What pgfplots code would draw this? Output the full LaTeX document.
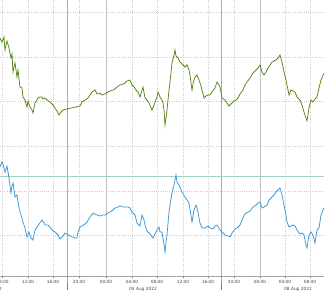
\documentclass[border=0pt]{standalone}
\usepackage{fontspec}
\setmainfont{DejaVu Sans}
\usepackage{pgfplots}
\pgfplotsset{compat=1.18}
\definecolor{grn}{RGB}{88,134,24}
\definecolor{blu}{RGB}{58,152,214}
\definecolor{tealline}{RGB}{160,212,200}
\definecolor{gridc}{RGB}{205,205,205}
\definecolor{txt}{RGB}{70,70,70}
\begin{document}
\begin{tikzpicture}
\useasboundingbox (0,-14pt) rectangle (324pt,276pt);
\begin{axis}[
  scale only axis, width=324pt, height=276pt,
  xmin=0, xmax=324, ymin=0, ymax=276,
  clip=false,
  axis line style={draw=none},
  ytick={41,85,130,175,219,264}, yticklabels={},
  ytick style={draw=none},
  xtick={2.5,28,53,79,132,157,183,208,234,285,310},
  xticklabels={08:00,12:00,16:00,20:00,04:00,08:00,12:00,16:00,20:00,04:00,08:00},
  extra x ticks={106,260},
  extra x tick labels={00:00,00:00},
  extra x tick style={grid=major, major grid style={gray!50, solid, line width=0.7pt}},
  xtick pos=bottom, tick align=outside, major tick length=1.5pt,
  xtick style={black!60, line width=0.4pt},
  xticklabel style={font=\fontsize{4.3}{5}\selectfont, text=txt, yshift=1.2pt},
  grid=major,
  major grid style={gridc, dash pattern=on 0.8pt off 1.4pt, line width=0.4pt},
]
% bottom axis line
\draw[gray!70, line width=0.5pt] (axis cs:0,0) -- (axis cs:324,0);
% session separators
\draw[black!50, line width=0.45pt] (axis cs:67,276) -- (axis cs:67,0) -- ++(0,-14pt);
\draw[black!50, line width=0.45pt] (axis cs:221,276) -- (axis cs:221,0) -- ++(0,-14pt);
% reference line
\addplot[tealline, line width=0.7pt] coordinates {(0,100) (324,100)};
% green series (values as pixel rows from top)
\addplot[grn, line width=0.75pt] table[x=x, y expr=276-\thisrow{y}] {
x y
0 38
2 42
4 37
5 50
7 41
9 48
11 58
12 54
13 72
15 63
17 77
18 70
20 87
22 88
23 97
25 100
26 104
27 107
28 101
30 107
32 110
33 113
35 103
37 100
38 98
40 97
42 97
43 99
45 98
47 100
50 102
53 105
55 108
57 111
59 115
61 112
63 110
80 106
82 102
85 100
88 98
90 95
92 92
95 90
97 94
100 93
102 95
105 94
108 92
110 91
113 90
115 89
117 87
120 85
123 84
125 83
127 81
130 80
132 85
134 87
136 90
138 92
140 97
143 87
145 98
147 100
149 103
152 110
154 105
157 97
158 92
160 97
162 100
163 103
164 110
165 125
166 118
167 110
169 90
170 82
172 63
174 55
175 50
176 56
178 58
180 62
182 64
185 67
187 65
189 70
190 75
192 90
193 84
195 77
197 75
199 80
201 86
204 98
206 96
208 95
210 95
212 92
215 88
217 82
219 85
220 87
222 98
225 100
227 103
229 106
231 104
233 102
236 100
238 98
240 94
243 90
245 85
247 82
250 78
253 73
256 70
258 68
260 65
262 72
264 75
266 72
268 68
270 65
272 62
274 61
276 60
278 58
280 55
282 62
284 72
286 80
288 90
289 95
291 90
293 91
295 92
297 97
300 100
302 105
304 112
306 118
307 121
309 108
311 100
313 102
315 99
317 97
319 88
321 80
324 73
};
% blue series
\addplot[blu, line width=0.75pt] table[x=x, y expr=276-\thisrow{y}] {
x y
0 167
2 162
3 164
5 172
7 166
9 178
11 193
12 186
13 183
15 197
17 195
19 208
21 215
23 222
25 228
27 237
29 232
31 238
33 240
35 230
37 227
39 224
42 220
45 225
48 225
50 227
52 230
55 232
58 235
60 239
63 236
65 233
67 234
70 236
73 237
75 238
77 238
78 232
80 227
82 226
85 224
87 222
90 217
93 213
95 214
97 215
100 216
103 215
105 215
108 213
110 212
113 210
115 208
118 207
120 206
123 207
125 207
128 207
130 208
132 212
135 215
137 223
140 226
142 215
144 220
145 225
147 231
150 234
153 238
155 234
157 230
159 227
160 232
162 232
163 238
165 252
166 242
167 235
169 212
170 205
172 193
174 185
176 175
177 182
179 185
182 192
185 197
187 200
189 203
192 222
194 210
196 205
198 212
200 223
202 228
205 228
208 226
210 228
213 229
215 226
217 225
220 230
222 232
225 235
228 236
230 237
232 233
235 229
237 228
240 225
243 218
245 214
248 212
250 211
253 207
256 205
258 203
260 202
262 208
264 207
267 205
269 200
272 197
274 195
276 192
278 190
280 188
282 195
284 205
286 215
287 222
289 227
291 226
293 225
295 226
297 230
300 234
302 233
304 235
306 245
307 248
309 235
311 232
313 235
315 243
317 230
319 228
321 215
324 208
};
% date labels
\node[font=\fontsize{4.3}{5}\selectfont, text=txt, anchor=north] at (axis cs:-12,0) [yshift=-7.5pt] {04 Aug 2022};
\node[font=\fontsize{4.3}{5}\selectfont, text=txt, anchor=north] at (axis cs:143,0) [yshift=-7.5pt] {05 Aug 2022};
\node[font=\fontsize{4.3}{5}\selectfont, text=txt, anchor=north] at (axis cs:298,0) [yshift=-7.5pt] {08 Aug 2022};
\end{axis}
\end{tikzpicture}
\end{document}
